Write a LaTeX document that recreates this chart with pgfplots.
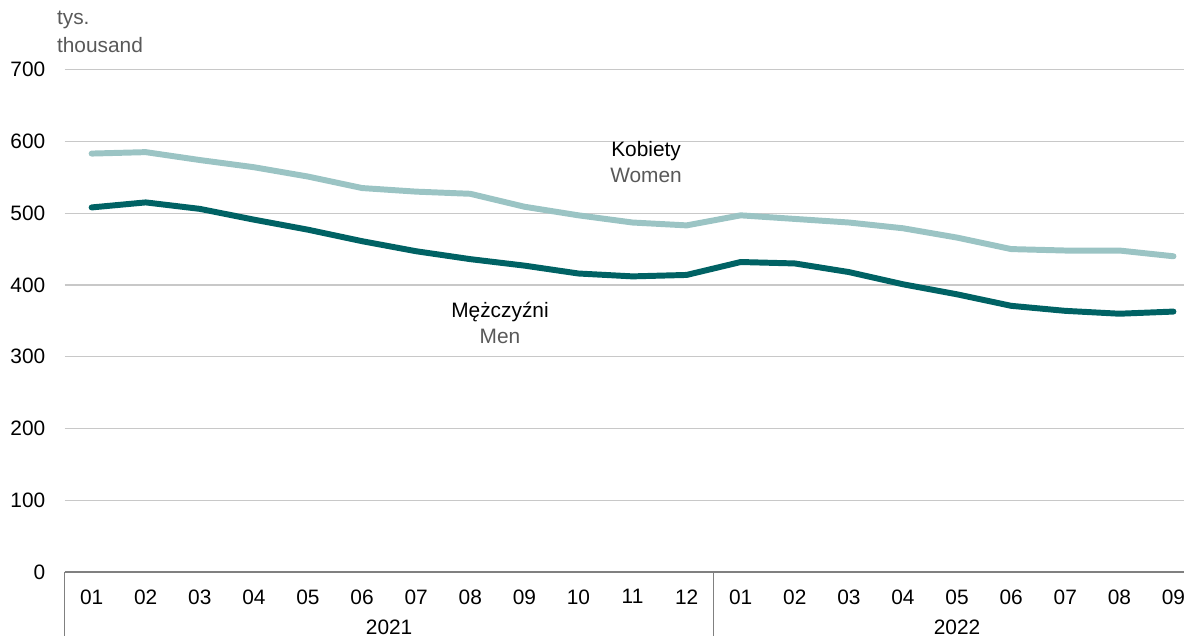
\documentclass[border=0pt]{standalone}
\usepackage{pgfplots}
\pgfplotsset{compat=1.18}
\usepackage{fontspec}
\setmainfont{Liberation Sans}
\definecolor{women}{RGB}{155,196,196}
\definecolor{men}{RGB}{0,98,100}
\definecolor{labgray}{RGB}{89,89,89}
\definecolor{gridgray}{RGB}{200,200,200}
\begin{document}
\fontsize{10.5}{12.6}\selectfont
\begin{tikzpicture}
\begin{axis}[
    at={(0,0)}, anchor=south west,
    scale only axis,
    width=563.5pt, height=253pt,
    xmin=-0.5, xmax=20.2,
    ymin=0, ymax=700,
    ytick={0,100,...,700},
    xtick={0,...,20},
    xticklabels={01,02,03,04,05,06,07,08,09,10,11,12,01,02,03,04,05,06,07,08,09},
    ymajorgrids,
    grid style={gridgray, line width=0.6pt},
    axis line style={draw=none},
    tick style={draw=none},
    clip=false,
    /pgf/number format/assume math mode=true,
    ticklabel style={font=\fontsize{10.5}{12.6}\selectfont},
    yticklabel style={xshift=-6pt},
    xticklabel style={yshift=-5pt},
  ]
% women
\addplot[women, line width=3pt, line cap=round, line join=round] coordinates {
  (0,583) (1,585) (2,574) (3,564) (4,551) (5,535) (6,530) (7,527) (8,509) (9,497) (10,487) (11,483)
  (12,497) (13,492) (14,487) (15,479) (16,466) (17,450) (18,448) (19,448) (20,440)
};
% men
\addplot[men, line width=3pt, line cap=round, line join=round] coordinates {
  (0,508) (1,515) (2,506) (3,491) (4,477) (5,461) (6,447) (7,436) (8,427) (9,416) (10,412) (11,414)
  (12,432) (13,430) (14,418) (15,401) (16,387) (17,371) (18,364) (19,360) (20,363)
};
% bottom axis and year separators
\draw[gray, line width=0.8pt] (axis cs:-0.5,0) -- (axis cs:20.2,0);
\draw[gray, line width=0.8pt] (axis cs:-0.5,0) -- ([yshift=-32pt]axis cs:-0.5,0);
\draw[gray, line width=0.8pt] (axis cs:11.5,0) -- ([yshift=-32pt]axis cs:11.5,0);
\node at ([yshift=-27.5pt]axis cs:5.5,0) {2021};
\node at ([yshift=-27.5pt]axis cs:16,0) {2022};
% series labels
\node[align=center, inner sep=0pt] at (axis cs:10.25,586) {Kobiety};
\node[align=center, inner sep=0pt, text=labgray] at (axis cs:10.25,553) {Women};
\node[align=center, inner sep=0pt] at (axis cs:7.55,362) {Mężczyźni};
\node[align=center, inner sep=0pt, text=labgray] at (axis cs:7.55,329) {Men};
% unit
\node[anchor=west, inner sep=0pt, text=labgray] at (-4pt,278pt) {tys.};
\node[anchor=west, inner sep=0pt, text=labgray] at (-4pt,265.5pt) {thousand};
\end{axis}
\useasboundingbox (-32.5pt,-30pt) rectangle (563.5pt,288pt);
\end{tikzpicture}
\end{document}
